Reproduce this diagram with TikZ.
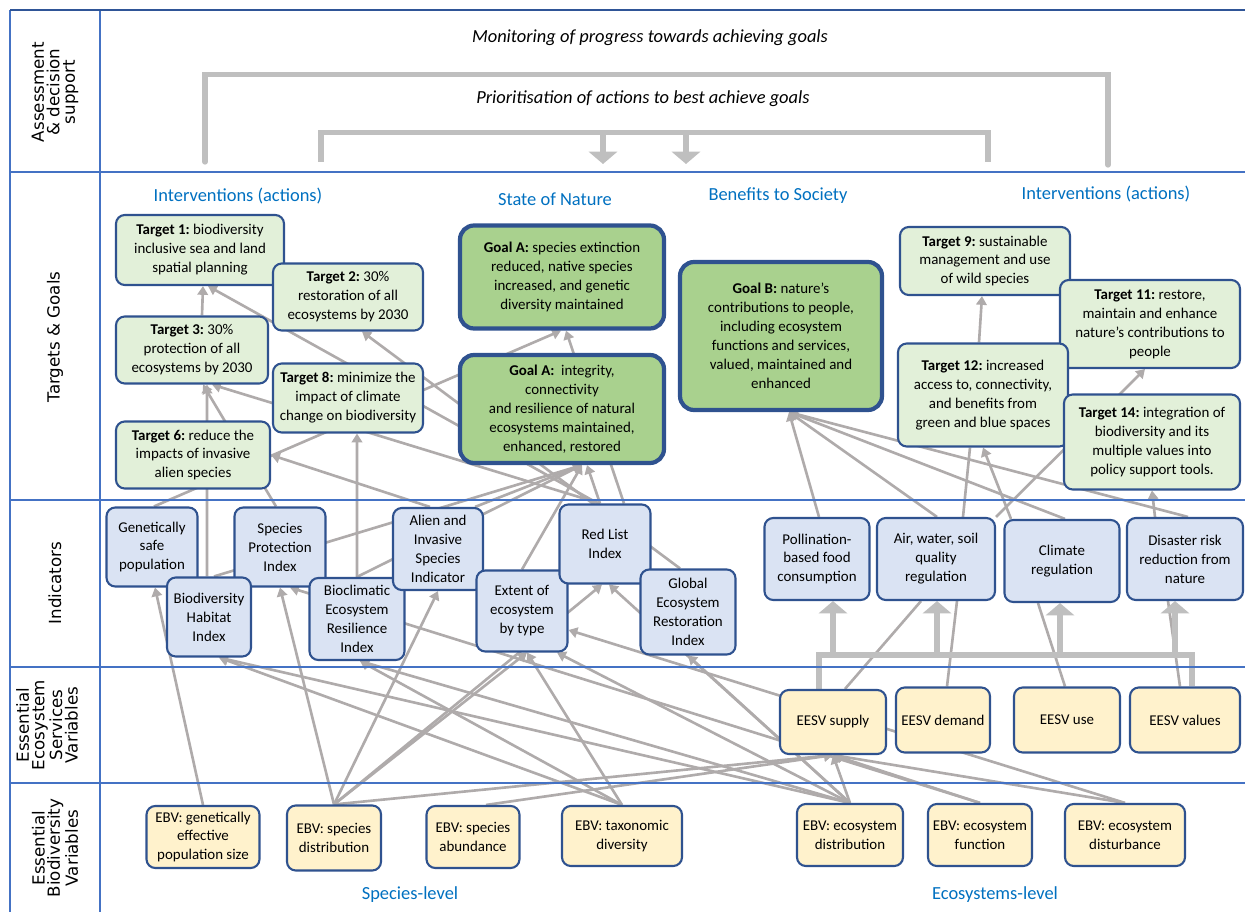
\documentclass[tikz,border=0pt]{standalone}
\usepackage{fontspec}
\setmainfont{Carlito}
\newfontfamily\rowfont{DejaVu Sans}
\usepackage{tikz}
\usetikzlibrary{arrows.meta,positioning}
\pgfdeclarelayer{bg}
\pgfsetlayers{bg,main}
\frenchspacing
\definecolor{frameblue}{HTML}{4472C4}
\definecolor{topblue}{HTML}{2F5597}
\definecolor{boxline}{HTML}{2F528F}
\definecolor{headblue}{HTML}{0070C0}
\definecolor{tgfill}{HTML}{E2F0D9}
\definecolor{goalfill}{HTML}{A9D18E}
\definecolor{indfill}{HTML}{DAE3F3}
\definecolor{varfill}{HTML}{FFF2CC}
\definecolor{linkgray}{HTML}{AFABAB}
\definecolor{thickgray}{HTML}{BFBFBF}
\tikzset{
    wh/.style 2 args={minimum width=#1*0.02cm, minimum height=#2*0.02cm},
    box/.style={draw=boxline, line width=1.2pt, rounded corners=5pt,
                align=center, inner sep=2pt,
                font=\fontsize{8.5}{10.8}\selectfont},
    target/.style={box, fill=tgfill},
    goal/.style={box, fill=goalfill, line width=2.4pt, rounded corners=8pt},
    indicator/.style={box, fill=indfill},
    varbox/.style={box, fill=varfill},
    rowlabel/.style={rotate=90, align=center,
                     font=\rowfont\fontsize{9.5}{8.8}\selectfont},
    head/.style={text=headblue, font=\fontsize{10.5}{12}\selectfont},
    loopnote/.style={font=\itshape\fontsize{10.5}{12}\selectfont},
    link/.style={draw=linkgray, line width=1.5pt,
                 -{Triangle[width=6pt,length=5pt]}},
    plainlink/.style={draw=linkgray, line width=1.5pt},
    bracket/.style={draw=thickgray, line width=3pt, line cap=round},
    bigtip/.style={bracket, line cap=butt,
                   -{Triangle[width=16pt,length=7pt]}},
    rowline/.style={draw=frameblue, line width=1.7pt},
}
\begin{document}
\begin{tikzpicture}[x=0.02cm, y=-0.02cm]
\useasboundingbox (0,0) rectangle (1245,912);

% frame of the rows
\draw[rowline] (10,10) -- (10,912);
\draw[rowline] (100,10) -- (100,912);
\foreach \yy in {172,500,667,783}
    \draw[rowline] (10,\yy) -- (1245,\yy);
\draw[rowline, draw=topblue] (10,10) -- (1245,10);

% row labels
\node[rowlabel] (r1) at (55,92) {Assessment\\ \& decision\\ support};
\node[rowlabel] (r2) at (55,337) {Targets \& Goals};
\node[rowlabel] (r3) at (55,583) {Indicators};
\node[rowlabel] (r4) at (47,725) {Essential\\ Ecosystem\\ Services\\ Variables};
\node[rowlabel] (r5) at (55,848) {Essential\\ Biodiversity\\ Variables};

% assessment and decision support
\node[loopnote] (monitor) at (650,38) {Monitoring of progress towards achieving goals};
\node[loopnote] (prior) at (643,99) {Prioritisation of actions to best achieve goals};
\coordinate (m1) at (205,162);
\coordinate (m2) at (1108,165);
\coordinate (p1) at (321,162);
\coordinate (p2) at (603,164);
\coordinate (p3) at (988,162);
\coordinate (p4) at (686,164);
\draw[bracket] (m1) |- ([yshift=-0.44cm]monitor.south) -| (m2);
\draw[bigtip] (p1) |- ([yshift=-0.38cm]prior.south) -| (p2);
\draw[bigtip] (p3) |- ([yshift=-0.38cm]prior.south) -| (p4);

% headings
\node[head] (hint1) at (238,196) {Interventions (actions)};
\node[head] (hnat) at (555,199) {State of Nature};
\node[head] (hben) at (778,196) {Benefits to Society};
\node[head] (hint2) at (1106,194) {Interventions (actions)};
\node[head] (hsp) at (410,895) {Species-level};
\node[head] (heco) at (995,895) {Ecosystems-level};

% targets and goals
\node[target, wh={168}{70}] (t1) at (200,250) {\textbf{Target 1:} biodiversity\\ inclusive sea and land\\ spatial planning};
\node[target, wh={150}{67}] (t2) at (348,297) {\textbf{Target 2:} 30\%\\ restoration of all\\ ecosystems by 2030};
\node[target, wh={152}{67}] (t3) at (192,350) {\textbf{Target 3:} 30\%\\ protection of all\\ ecosystems by 2030};
\node[target, wh={150}{69}] (t8) at (348,398) {\textbf{Target 8:} minimize the\\ impact of climate\\ change on biodiversity};
\node[target, wh={154}{67}] (t6) at (193,455) {\textbf{Target 6:} reduce the\\ impacts of invasive\\ alien species};
\node[goal, wh={204}{103}] (ga1) at (562,277) {\textbf{Goal A:} species extinction\\ reduced, native species\\ increased, and genetic\\ diversity maintained};
\node[goal, wh={204}{108}] (ga2) at (562,409) {\textbf{Goal A:}~ integrity,\\ connectivity\\ and resilience of natural\\ ecosystems maintained,\\ enhanced, restored};
\node[goal, wh={202}{148}] (gb) at (781,336) {\textbf{Goal B:} nature's\\ contributions to people,\\ including ecosystem\\ functions and services,\\ valued, maintained and\\ enhanced};
\node[target, wh={170}{68}] (t9) at (985,261) {\textbf{Target 9:} sustainable\\ management and use\\ of wild species};
\node[target, wh={180}{88}] (t11) at (1150,324) {\textbf{Target 11:} restore,\\ maintain and enhance\\ nature's contributions to\\ people};
\node[target, wh={170}{103}] (t12) at (983,395) {\textbf{Target 12:} increased\\ access to, connectivity,\\ and benefits from\\ green and blue spaces};
\node[target, wh={176}{95}] (t14) at (1152,442) {\textbf{Target 14:} integration of\\ biodiversity and its\\ multiple values into\\ policy support tools.};

% indicators
\node[indicator, wh={91}{79}] (gsp) at (152,547) {Genetically\\ safe\\ population};
\node[indicator, wh={91}{79}] (spi) at (280,547) {Species\\ Protection\\ Index};
\node[indicator, wh={84}{79}] (bhi) at (209,617) {Biodiversity\\ Habitat\\ Index};
\node[indicator, wh={95}{82}] (beri) at (357,619) {Bioclimatic\\ Ecosystem\\ Resilience\\ Index};
\node[indicator, wh={90}{82}] (aisi) at (438,549) {Alien and\\ Invasive\\ Species\\ Indicator};
\node[indicator, wh={91}{81}] (ext) at (522,611) {Extent of\\ ecosystem\\ by type};
\node[indicator, wh={91}{79}] (rli) at (605,544) {Red List\\ Index};
\node[indicator, wh={95}{85}] (geri) at (688,612) {Global\\ Ecosystem\\ Restoration\\ Index};
\node[indicator, wh={105}{82}] (poll) at (817,559) {Pollination-\\ based food\\ consumption};
\node[indicator, wh={118}{82}] (aws) at (936,559) {Air, water, soil\\ quality\\ regulation};
\node[indicator, wh={115}{82}] (clim) at (1062,561) {Climate\\ regulation};
\node[indicator, wh={116}{82}] (drr) at (1185,559) {Disaster risk\\ reduction from\\ nature};

% essential ecosystem services variables
\node[varbox, wh={106}{64}] (sup) at (833,722) {EESV supply};
\node[varbox, wh={94}{65}] (dem) at (943,720) {EESV demand};
\node[varbox, wh={106}{65}] (use) at (1067,720) {EESV use};
\node[varbox, wh={110}{65}] (val) at (1185,720) {EESV values};

% essential biodiversity variables
\node[varbox, wh={113}{62}] (gen) at (203,837) {EBV: genetically\\ effective\\ population size};
\node[varbox, wh={94}{65}] (sd) at (334,838) {EBV: species\\ distribution};
\node[varbox, wh={93}{62}] (sa) at (473,837) {EBV: species\\ abundance};
\node[varbox, wh={120}{60}] (td) at (622,836) {EBV: taxonomic\\ diversity};
\node[varbox, wh={106}{62}] (ed) at (850,835) {EBV: ecosystem\\ distribution};
\node[varbox, wh={104}{62}] (ef) at (980,835) {EBV: ecosystem\\ function};
\node[varbox, wh={120}{62}] (edb) at (1125,835) {EBV: ecosystem\\ disturbance};

\begin{pgfonlayer}{bg}
% indicators to targets and goals
\draw[link] ([xshift=0.2cm]t3.north) -- ([xshift=0.06cm]t1.south);
\draw[link] ([xshift=-0.14cm]rli.north) -- ([xshift=0.16cm]t1.south);
\draw[link] ([xshift=-0.1cm]rli.north) -- ([xshift=0.4cm]t3.south);
\draw[link] ([xshift=-0.04cm]bhi.north) -- ([xshift=0.3cm]t3.south);
\draw[link] ([xshift=-0.08cm]spi.north) -- ([xshift=0.22cm]t3.south);
\draw[link] ([xshift=0.04cm]gsp.north) -- ([xshift=-0.02cm]ga1.south);
\draw[link] ([xshift=-0.16cm]aisi.north) -- (t6.east);
\draw[link] (beri.north) -- ([xshift=0.18cm]t8.south);
\draw[link] ([xshift=-0.16cm]geri.north) -- ([xshift=0.28cm]t2.south);
\draw[link] ([xshift=0.38cm]rli.north) -- ([xshift=0.08cm]ga1.south);
\draw[link] (ext.north) -- ([xshift=0.4cm]ga2.south);
\draw[link] ([xshift=0.74cm]aisi.north) -- ([xshift=0.4cm]ga2.south);
\draw[link] (beri.north) -- ([xshift=0.4cm]ga2.south);
\draw[link] ([xshift=0.1cm]bhi.north) -- ([xshift=0.4cm]ga2.south);
\draw[link] ([xshift=-0.1cm]rli.north) -- ([xshift=0.5cm]ga2.south);
\draw[link] ([xshift=0.04cm]poll.north) -- ([xshift=0.16cm]gb.south);
\draw[link] ([xshift=0.02cm]aws.north) -- ([xshift=0.16cm]gb.south);
\draw[link] ([xshift=0.06cm]clim.north) -- ([xshift=0.16cm]gb.south);
\draw[link] ([xshift=0.06cm]drr.north) -- ([xshift=0.16cm]gb.south);
\draw[link] ([xshift=-1.02cm]clim.north) -- (t12.south);
\draw[plainlink] ([xshift=0.54cm]aws.north) -- ([xshift=-0.26cm]t12.south);
\draw[link] ([xshift=-0.6cm]drr.north) -- (t14.south);
\draw[link] (aws.north east) -- ([xshift=-0.1cm]t11.south);
\draw[link] ([xshift=-0.08cm]t12.north) -- ([xshift=-0.06cm]t9.south);

% variables to indicators
\draw[plainlink] ([xshift=0.24cm]sup.north) -- ([xshift=-0.3cm]aws.south);
\draw[plainlink] ([xshift=0.08cm]dem.north) -- ([xshift=0.42cm]aws.south);
\draw[plainlink] ([xshift=-0.04cm]use.north) -- ([xshift=-0.48cm]clim.south);
\draw[plainlink] ([xshift=-0.1cm]val.north) -- ([xshift=-0.34cm]drr.south);
\draw[link] (gen.north) -- ([xshift=0.06cm]gsp.south);
\draw[link] (sd.north) -- (spi.south);
\draw[link] (sd.north) -- (aisi.south);
\draw[link] (sd.north) -- ([xshift=0.1cm]ext.south);
\draw[link] (sd.north) -- ([xshift=-0.06cm]rli.south);
\draw[link] (sd.north) -- (sup.south);
\draw[link] ([xshift=0.26cm]sa.north) -- (sup.south);
\draw[link] (td.north) -- ([xshift=0.2cm]bhi.south);
\draw[link] (ed.north) -- ([xshift=0.2cm]bhi.south);
\draw[link] (ed.north) -- ([xshift=0.06cm]beri.south);
\draw[link] (td.north) -- ([xshift=0.06cm]beri.south);
\draw[link] (td.north) -- ([xshift=0.1cm]ext.south);
\draw[link] (ed.north) -- ([xshift=0.7cm]ext.south);
\draw[link] (ed.north) -- (geri.south);
\draw[link] (ed.north) -- ([xshift=0.08cm]rli.south);
\draw[link] (ed.north) -- (sup.south);
\draw[link] (ef.north) -- (sup.south);
\draw[link] (edb.north) -- (sup.south);
\draw[link] (ef.north) -- ([xshift=0.2cm]spi.south);
\draw[link] (edb.north) -- ([yshift=-0.38cm]ext.east);

% services to indicators
\draw[bracket, line cap=butt] ([xshift=-0.28cm]sup.north) -- ++(0,-34) -| ([xshift=0.14cm]val.north);
\foreach \ind/\dx in {poll/0.32cm,aws/0.02cm,clim/-0.04cm,drr/-0.2cm}
    \draw[bigtip, line width=3.4pt] ([xshift=\dx]\ind.south) ++(0,55) -- ([xshift=\dx]\ind.south);
\end{pgfonlayer}
\end{tikzpicture}
\end{document}
